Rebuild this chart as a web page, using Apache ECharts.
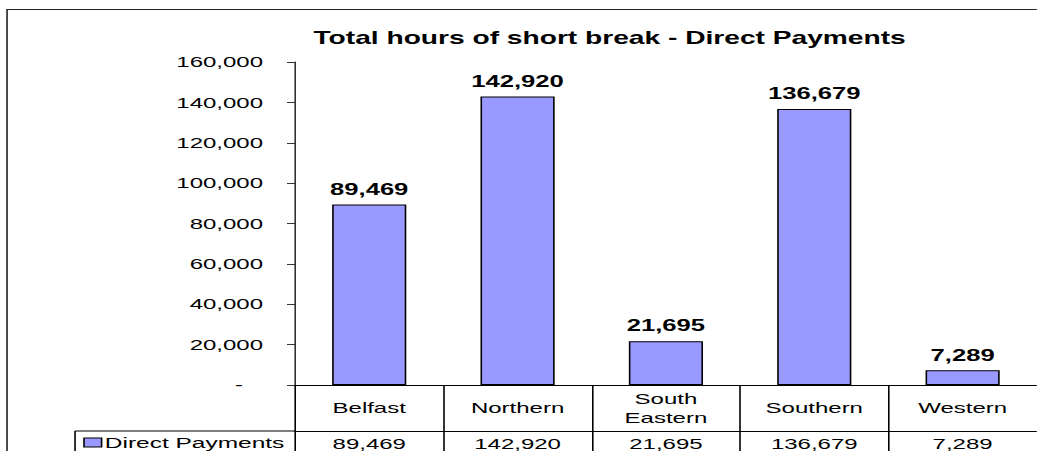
<!DOCTYPE html>
<html>
<head>
<meta charset="utf-8">
<script src="https://cdn.jsdelivr.net/npm/echarts@6/dist/echarts.min.js"></script>
<style>
  html, body { margin: 0; padding: 0; background: #fff; overflow: hidden; }
  /* the source picture is stretched sideways, so draw narrow and stretch */
  #chart { width: 648px; height: 451px; transform: scaleX(1.6); transform-origin: 0 0; }
</style>
</head>
<body>
<div id="chart"></div>
<script>
const categories = ['Belfast', 'Northern', 'South\nEastern', 'Southern', 'Western'];
const seriesName = 'Direct Payments';
const values = [89469, 142920, 21695, 136679, 7289];
const yMin = 0;
const yMax = 160000;
const yStep = 20000;

const fmt = v => v.toLocaleString('en-US');
const font = 'Liberation Sans, Arial, sans-serif';

let chart = echarts.init(document.getElementById('chart'), null, { renderer: 'svg' });

let option = {
    animation: false,
    title: {
        text: 'Total hours of short break - Direct Payments',
        left: 376,
        top: 24,
        textAlign: 'center',
        textStyle: { fontFamily: font, fontSize: 17.6, fontWeight: 'bold', color: '#000' }
    },
    legend: {
        data: [seriesName],
        left: 52,
        top: 435,
        padding: 0,
        icon: 'rect',
        itemWidth: 11,
        itemHeight: 9,
        itemStyle: { color: '#9999ff', borderColor: '#000', borderWidth: 1 },
        textStyle: { fontFamily: font, fontSize: 15.3, color: '#000', padding: [0, 0, 0, -3] }
    },
    grid: {
        left: 184.4,
        top: 62,
        width: 467.5,
        bottom: 66,
        containLabel: false
    },
    xAxis: [
        {
            type: 'category',
            data: categories,
            axisLine: { lineStyle: { color: '#000', width: 1 } },
            axisTick: { show: true, length: 46, lineStyle: { color: '#000' } },
            axisLabel: {
                interval: 0,
                margin: 23,
                verticalAlign: 'middle',
                fontFamily: font,
                fontSize: 15,
                lineHeight: 19,
                color: '#000'
            }
        },
        {
            type: 'category',
            position: 'bottom',
            offset: 46,
            data: values.map(fmt),
            axisLine: { lineStyle: { color: '#000', width: 1 } },
            axisTick: { show: true, length: 30, lineStyle: { color: '#000' } },
            axisLabel: {
                interval: 0,
                margin: 12.5,
                verticalAlign: 'middle',
                fontFamily: font,
                fontSize: 15,
                color: '#000'
            }
        }
    ],
    yAxis: {
        type: 'value',
        min: yMin,
        max: yMax,
        interval: yStep,
        splitLine: { show: false },
        axisLine: { show: true, lineStyle: { color: '#333' } },
        axisTick: { show: true, length: 5, lineStyle: { color: '#333' } },
        axisLabel: {
            margin: 20,
            fontFamily: font,
            fontSize: 15,
            color: '#000',
            formatter: v => v === 0 ? '-   ' : fmt(v)
        }
    },
    series: [
        {
            name: seriesName,
            type: 'bar',
            xAxisIndex: 0,
            barWidth: '50%',
            data: values,
            itemStyle: { color: '#9999ff', borderColor: '#000', borderWidth: 1 },
            label: {
                show: true,
                position: 'top',
                distance: 7,
                fontFamily: font,
                fontSize: 16,
                fontWeight: 'bold',
                color: '#000',
                formatter: p => fmt(p.value)
            }
        }
    ],
    graphic: [
        // outer chart frame
        { type: 'rect', shape: { x: 4.4, y: 9.5, width: 700, height: 500 },
          style: { fill: 'none', stroke: '#222', lineWidth: 1 }, silent: true },
        // legend cell of the data table
        { type: 'line', shape: { x1: 46.9, y1: 431, x2: 184.4, y2: 431 },
          style: { stroke: '#000', lineWidth: 1 }, silent: true },
        { type: 'line', shape: { x1: 46.9, y1: 431, x2: 46.9, y2: 470 },
          style: { stroke: '#000', lineWidth: 1 }, silent: true }
    ]
};

chart.setOption(option);
</script>
</body>
</html>
